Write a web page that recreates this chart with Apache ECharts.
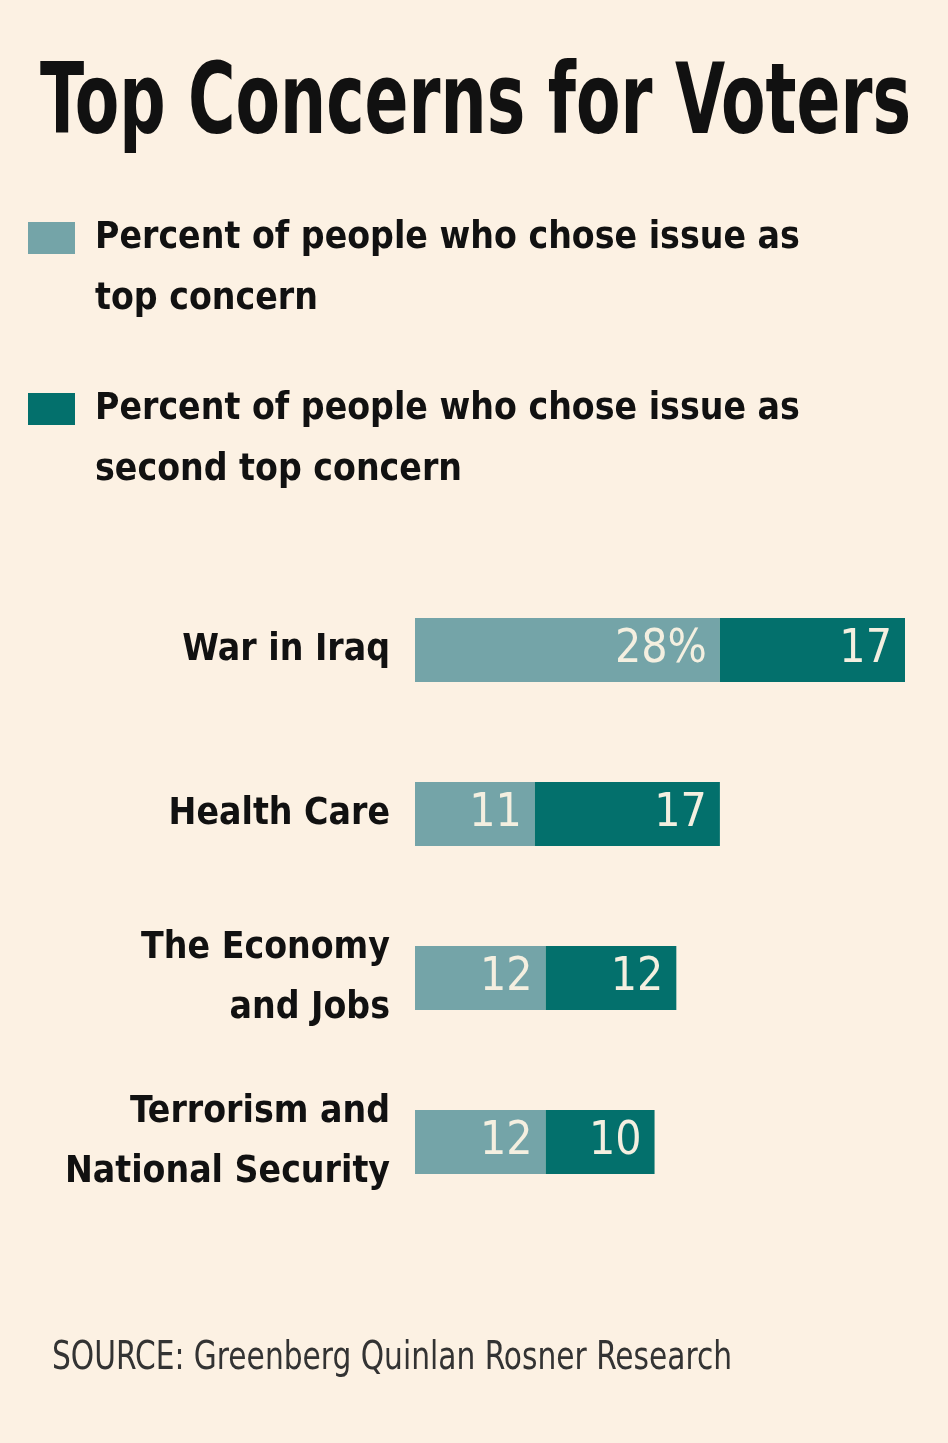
<!DOCTYPE html>
<html>
<head>
<meta charset="utf-8">
<script src="https://cdn.jsdelivr.net/npm/echarts@6/dist/echarts.min.js"></script>
<style>
  html, body { margin: 0; padding: 0; background: #fcf1e3; }
  #main { width: 948px; height: 1443px; }
</style>
</head>
<body>
<div id="main"></div>
<script>
// 数据
const categories = ['War in Iraq', 'Health Care', 'The Economy\nand Jobs', 'Terrorism and\nNational Security']
const topConcern = [28, 11, 12, 12]
const secondConcern = [17, 17, 12, 10]
const seriesNames = [
  'Percent of people who chose issue as\ntop concern',
  'Percent of people who chose issue as\nsecond top concern'
]

const font = '"DejaVu Sans Condensed", "Liberation Sans Narrow", sans-serif'
const lightColor = '#74a4a8'
const darkColor = '#03706c'

const myChart = echarts.init(document.getElementById('main'))

// 图例文字：前面加一个空行，让第一行和色块对齐
const legendText = {
  fontFamily: font,
  fontWeight: 'bold',
  fontSize: 37,
  lineHeight: 61,
  color: '#111',
  padding: [0, 0, 0, 15]
}

const option = {
  backgroundColor: '#fcf1e3',
  animation: false,
  legend: [
    {
      data: [seriesNames[0]],
      left: 28, top: 146.5, padding: 0,
      icon: 'rect', itemWidth: 47, itemHeight: 32,
      selectedMode: false,
      formatter: name => '\n' + name,
      textStyle: legendText
    },
    {
      data: [seriesNames[1]],
      left: 28, top: 317.5, padding: 0,
      icon: 'rect', itemWidth: 47, itemHeight: 32,
      selectedMode: false,
      formatter: name => '\n' + name,
      textStyle: legendText
    }
  ],
  graphic: [
    {
      type: 'text',
      x: 40, y: 108,
      scaleY: 1.35,
      style: {
        text: 'Top Concerns for Voters',
        fontFamily: font, fontWeight: 'bold', fontSize: 72, fill: '#111',
        verticalAlign: 'middle'
      }
    },
    {
      type: 'text',
      x: 52, y: 1359,
      scaleY: 1.2,
      style: {
        text: 'SOURCE: Greenberg Quinlan Rosner Research',
        fontFamily: font, fontSize: 33, fill: '#333',
        verticalAlign: 'middle'
      }
    }
  ],
  grid: { left: 415, right: 43, top: 568, height: 656, containLabel: false },
  xAxis: { type: 'value', min: 0, max: 45, show: false },
  yAxis: {
    type: 'category',
    inverse: true,
    data: categories,
    axisLine: { show: false },
    axisTick: { show: false },
    axisLabel: {
      margin: 25,
      fontFamily: font,
      fontWeight: 'bold',
      fontSize: 37,
      lineHeight: 60,
      padding: [14, 0, 0, 0],
      color: '#111'
    }
  },
  series: [
    { name: seriesNames[0], data: topConcern, color: lightColor },
    { name: seriesNames[1], data: secondConcern, color: darkColor }
  ].map(item => ({
    name: item.name,
    type: 'bar',
    stack: 'total',
    barWidth: 64,
    itemStyle: { color: item.color },
    label: {
      show: true,
      position: 'insideRight',
      distance: 13,
      fontFamily: font,
      fontSize: 46,
      color: '#f4efe0',
      formatter: p => (p.seriesIndex === 0 && p.dataIndex === 0) ? p.value + '%' : p.value
    },
    data: item.data
  }))
}

myChart.setOption(option)
</script>
</body>
</html>
